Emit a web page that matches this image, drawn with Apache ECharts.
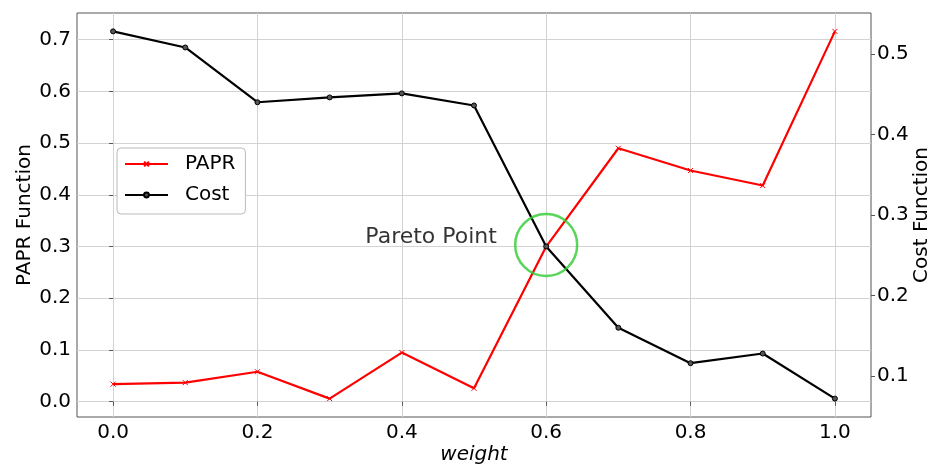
<!DOCTYPE html>
<html>
<head>
<meta charset="utf-8">
<script src="https://cdn.jsdelivr.net/npm/echarts@6/dist/echarts.min.js"></script>
<style>
  html, body { margin: 0; padding: 0; background: #fff; }
  #chart { width: 933px; height: 466px; }
</style>
</head>
<body>
<div id="chart"></div>
<script>
// Trade-off between PAPR and cost as the weight is swept from 0 to 1
const weights    = [0.0, 0.1, 0.2, 0.3, 0.4, 0.5, 0.6, 0.7, 0.8, 0.9, 1.0];
const paprValues = [0.034, 0.037, 0.058, 0.006, 0.095, 0.026, 0.300, 0.490, 0.447, 0.418, 0.716];
const costValues = [0.528, 0.508, 0.440, 0.446, 0.451, 0.436, 0.261, 0.160, 0.116, 0.128, 0.072];

// Tick positions on each axis
const xTicks    = [0.0, 0.2, 0.4, 0.6, 0.8, 1.0];
const paprTicks = [0.0, 0.1, 0.2, 0.3, 0.4, 0.5, 0.6, 0.7];
const costTicks = [0.1, 0.2, 0.3, 0.4, 0.5];

// Marked compromise point (on the PAPR scale)
const paretoWeight = 0.6;
const paretoPapr = 0.303;
const paretoLabel = 'Pareto Point';

const FONT = 'DejaVu Sans';

// 5% padding around the data range on each axis
function padded(values) {
  const lo = Math.min(...values), hi = Math.max(...values);
  const m = (hi - lo) * 0.05;
  return [lo - m, hi + m];
}
const xRange = padded(weights);
const paprRange = padded(paprValues);
const costRange = padded(costValues);

const pair = (xs, ys) => xs.map((x, i) => [x, ys[i]]);

const chart = echarts.init(document.getElementById('chart'), null, { renderer: 'canvas' });

const tickLabel = { fontFamily: FONT, fontSize: 20, color: '#000' };
const tickMark = ticks => ({ show: true, inside: false, length: 4, customValues: ticks,
  lineStyle: { color: '#555', width: 1 } });
const labelFor = ticks => Object.assign({ margin: 6, customValues: ticks,
  formatter: v => v.toFixed(1) }, tickLabel);

chart.setOption({
  animation: false,
  backgroundColor: '#fff',
  grid: {
    left: 77, right: 62, top: 13, bottom: 49,
    containLabel: false,
    outerBoundsMode: 'none',
    show: true, borderColor: '#555', borderWidth: 1, backgroundColor: 'transparent'
  },
  legend: {
    data: ['PAPR', 'Cost'],
    orient: 'vertical',
    left: 117, top: 148,
    padding: [5, 10, 8, 7],
    itemWidth: 43, itemHeight: 6, itemGap: 9,
    backgroundColor: '#fff',
    borderColor: '#bbb', borderWidth: 1, borderRadius: 4,
    textStyle: { fontFamily: FONT, fontSize: 20, color: '#000', lineHeight: 22, padding: [0, 0, 0, 12] }
  },
  xAxis: {
    type: 'value',
    min: xRange[0], max: xRange[1],
    splitNumber: 5,
    name: 'weight', nameLocation: 'middle', nameGap: 28, nameMoveOverlap: false,
    nameTextStyle: { fontFamily: FONT, fontSize: 20, fontStyle: 'italic', color: '#000' },
    axisLine: { show: false },
    axisTick: tickMark(xTicks),
    axisLabel: labelFor(xTicks),
    splitLine: { show: true, lineStyle: { color: '#d3d3d3', width: 1 } }
  },
  yAxis: [
    {
      type: 'value', position: 'left',
      min: paprRange[0], max: paprRange[1],
      splitNumber: 7,
      name: 'PAPR Function', nameLocation: 'middle', nameGap: 42, nameMoveOverlap: false,
      nameTextStyle: { fontFamily: FONT, fontSize: 20, color: '#000' },
      axisLine: { show: false },
      axisTick: tickMark(paprTicks),
      axisLabel: labelFor(paprTicks),
      splitLine: { show: true, lineStyle: { color: '#d3d3d3', width: 1 } }
    },
    {
      type: 'value', position: 'right',
      min: costRange[0], max: costRange[1],
      splitNumber: 5,
      name: 'Cost Function', nameLocation: 'middle', nameGap: 41, nameMoveOverlap: false,
      nameRotate: 90,
      nameTextStyle: { fontFamily: FONT, fontSize: 20, color: '#000' },
      axisLine: { show: false },
      axisTick: tickMark(costTicks),
      axisLabel: labelFor(costTicks),
      splitLine: { show: false }
    }
  ],
  series: [
    {
      name: 'PAPR', type: 'line', yAxisIndex: 0,
      data: pair(weights, paprValues),
      color: '#ff0000',
      lineStyle: { color: '#ff0000', width: 2.2 },
      symbol: 'path://M0,0L10,10M10,0L0,10', symbolSize: 5,
      itemStyle: { color: '#ff0000', borderColor: '#ff0000', borderWidth: 1 },
      z: 2
    },
    {
      name: 'Cost', type: 'line', yAxisIndex: 1,
      data: pair(weights, costValues),
      color: '#000',
      lineStyle: { color: '#000', width: 2.2 },
      symbol: 'circle', symbolSize: 5,
      itemStyle: { color: '#555', borderColor: '#000', borderWidth: 1 },
      z: 3
    },
    {
      name: 'pareto', type: 'scatter', yAxisIndex: 0,
      data: [[paretoWeight, paretoPapr]],
      symbol: 'circle', symbolSize: 62,
      silent: true,
      itemStyle: { color: 'rgba(0,0,0,0)', borderColor: '#2fcc2f', borderWidth: 2.5 },
      label: {
        show: true, position: 'left', distance: 17, offset: [0, -8],
        formatter: paretoLabel,
        fontFamily: FONT, fontSize: 22, color: '#000'
      },
      z: 4
    }
  ]
});
</script>
</body>
</html>
